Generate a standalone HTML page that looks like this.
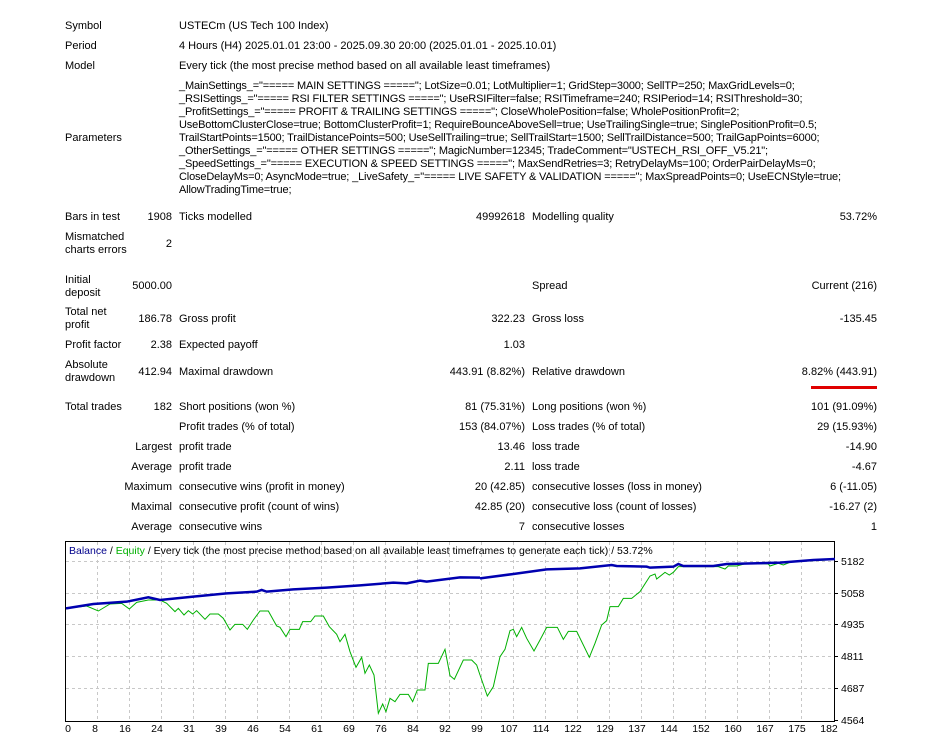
<!DOCTYPE html>
<html><head><meta charset="utf-8"><style>
body{margin:0;background:#fff;width:938px;height:743px;overflow:hidden;position:relative;font-family:"Liberation Sans",sans-serif;font-size:11px;color:#000}
.t{position:absolute;white-space:nowrap;line-height:13px}
.r{text-align:right}
</style></head><body>
<div class="t" style="left:65px;top:20px">Symbol</div>
<div class="t" style="left:179px;top:20px">USTECm (US Tech 100 Index)</div>
<div class="t" style="left:65px;top:40px">Period</div>
<div class="t" style="left:179px;top:40px">4 Hours (H4) 2025.01.01 23:00 - 2025.09.30 20:00 (2025.01.01 - 2025.10.01)</div>
<div class="t" style="left:65px;top:60px">Model</div>
<div class="t" style="left:179px;top:60px">Every tick (the most precise method based on all available least timeframes)</div>
<div class="t" style="left:65px;top:132px">Parameters</div>
<div class="t" style="left:179px;top:80px;letter-spacing:-0.15px">_MainSettings_="===== MAIN SETTINGS ====="; LotSize=0.01; LotMultiplier=1; GridStep=3000; SellTP=250; MaxGridLevels=0;<br>_RSISettings_="===== RSI FILTER SETTINGS ====="; UseRSIFilter=false; RSITimeframe=240; RSIPeriod=14; RSIThreshold=30;<br>_ProfitSettings_="===== PROFIT &amp; TRAILING SETTINGS ====="; CloseWholePosition=false; WholePositionProfit=2;<br>UseBottomClusterClose=true; BottomClusterProfit=1; RequireBounceAboveSell=true; UseTrailingSingle=true; SinglePositionProfit=0.5;<br>TrailStartPoints=1500; TrailDistancePoints=500; UseSellTrailing=true; SellTrailStart=1500; SellTrailDistance=500; TrailGapPoints=6000;<br>_OtherSettings_="===== OTHER SETTINGS ====="; MagicNumber=12345; TradeComment="USTECH_RSI_OFF_V5.21";<br>_SpeedSettings_="===== EXECUTION &amp; SPEED SETTINGS ====="; MaxSendRetries=3; RetryDelayMs=100; OrderPairDelayMs=0;<br>CloseDelayMs=0; AsyncMode=true; _LiveSafety_="===== LIVE SAFETY &amp; VALIDATION ====="; MaxSpreadPoints=0; UseECNStyle=true;<br>AllowTradingTime=true;</div>

<div class="t" style="left:65px;top:211px">Bars in test</div>
<div class="t r" style="right:766px;top:211px">1908</div>
<div class="t" style="left:179px;top:211px">Ticks modelled</div>
<div class="t r" style="right:413px;top:211px">49992618</div>
<div class="t" style="left:532px;top:211px">Modelling quality</div>
<div class="t r" style="right:61px;top:211px">53.72%</div>

<div class="t" style="left:65px;top:231px">Mismatched<br>charts errors</div>
<div class="t r" style="right:766px;top:238px">2</div>

<div class="t" style="left:65px;top:274px">Initial<br>deposit</div>
<div class="t r" style="right:766px;top:280px">5000.00</div>
<div class="t" style="left:532px;top:280px">Spread</div>
<div class="t r" style="right:61px;top:280px">Current (216)</div>

<div class="t" style="left:65px;top:306px">Total net<br>profit</div>
<div class="t r" style="right:766px;top:313px">186.78</div>
<div class="t" style="left:179px;top:313px">Gross profit</div>
<div class="t r" style="right:413px;top:313px">322.23</div>
<div class="t" style="left:532px;top:313px">Gross loss</div>
<div class="t r" style="right:61px;top:313px">-135.45</div>

<div class="t" style="left:65px;top:339px">Profit factor</div>
<div class="t r" style="right:766px;top:339px">2.38</div>
<div class="t" style="left:179px;top:339px">Expected payoff</div>
<div class="t r" style="right:413px;top:339px">1.03</div>

<div class="t" style="left:65px;top:359px">Absolute<br>drawdown</div>
<div class="t r" style="right:766px;top:366px">412.94</div>
<div class="t" style="left:179px;top:366px">Maximal drawdown</div>
<div class="t r" style="right:413px;top:366px">443.91 (8.82%)</div>
<div class="t" style="left:532px;top:366px">Relative drawdown</div>
<div class="t r" style="right:61px;top:366px">8.82% (443.91)</div>
<div style="position:absolute;left:811px;top:386px;width:66px;height:3px;background:#e00000"></div>

<div class="t" style="left:65px;top:401px">Total trades</div>
<div class="t r" style="right:766px;top:401px">182</div>
<div class="t" style="left:179px;top:401px">Short positions (won %)</div>
<div class="t r" style="right:413px;top:401px">81 (75.31%)</div>
<div class="t" style="left:532px;top:401px">Long positions (won %)</div>
<div class="t r" style="right:61px;top:401px">101 (91.09%)</div>

<div class="t" style="left:179px;top:421px">Profit trades (% of total)</div>
<div class="t r" style="right:413px;top:421px">153 (84.07%)</div>
<div class="t" style="left:532px;top:421px">Loss trades (% of total)</div>
<div class="t r" style="right:61px;top:421px">29 (15.93%)</div>

<div class="t r" style="right:766px;top:441px">Largest</div>
<div class="t" style="left:179px;top:441px">profit trade</div>
<div class="t r" style="right:413px;top:441px">13.46</div>
<div class="t" style="left:532px;top:441px">loss trade</div>
<div class="t r" style="right:61px;top:441px">-14.90</div>

<div class="t r" style="right:766px;top:461px">Average</div>
<div class="t" style="left:179px;top:461px">profit trade</div>
<div class="t r" style="right:413px;top:461px">2.11</div>
<div class="t" style="left:532px;top:461px">loss trade</div>
<div class="t r" style="right:61px;top:461px">-4.67</div>

<div class="t r" style="right:766px;top:481px">Maximum</div>
<div class="t" style="left:179px;top:481px">consecutive wins (profit in money)</div>
<div class="t r" style="right:413px;top:481px">20 (42.85)</div>
<div class="t" style="left:532px;top:481px">consecutive losses (loss in money)</div>
<div class="t r" style="right:61px;top:481px">6 (-11.05)</div>

<div class="t r" style="right:766px;top:501px">Maximal</div>
<div class="t" style="left:179px;top:501px">consecutive profit (count of wins)</div>
<div class="t r" style="right:413px;top:501px">42.85 (20)</div>
<div class="t" style="left:532px;top:501px">consecutive loss (count of losses)</div>
<div class="t r" style="right:61px;top:501px">-16.27 (2)</div>

<div class="t r" style="right:766px;top:521px">Average</div>
<div class="t" style="left:179px;top:521px">consecutive wins</div>
<div class="t r" style="right:413px;top:521px">7</div>
<div class="t" style="left:532px;top:521px">consecutive losses</div>
<div class="t r" style="right:61px;top:521px">1</div>

<svg style="position:absolute;left:0;top:0" width="938" height="743" font-family="Liberation Sans, sans-serif" font-size="10.5">
<g stroke="#c8c8c8" stroke-dasharray="3,3" stroke-width="1">
<line x1="66" x2="834" y1="561.5" y2="561.5"/><line x1="66" x2="834" y1="593.5" y2="593.5"/><line x1="66" x2="834" y1="624.5" y2="624.5"/><line x1="66" x2="834" y1="656.5" y2="656.5"/><line x1="66" x2="834" y1="688.5" y2="688.5"/>
<path d="M97.5 542V721M129.5 542V721M161.5 542V721M193.5 542V721M225.5 542V721M257.5 542V721M289.5 542V721M321.5 542V721M353.5 542V721M385.5 542V721M417.5 542V721M449.5 542V721M481.5 542V721M513.5 542V721M545.5 542V721M577.5 542V721M609.5 542V721M641.5 542V721M673.5 542V721M705.5 542V721M737.5 542V721M769.5 542V721M801.5 542V721"/>
</g>
<rect x="65.5" y="541.5" width="769" height="180" fill="none" stroke="#000"/>
<g stroke="#000"><path d="M834 561.5h4M834 593.5h4M834 624.5h4M834 656.5h4M834 688.5h4M834 720.5h4"/></g>
<g fill="#000">
<text x="841" y="565">5182</text><text x="841" y="597">5058</text><text x="841" y="628">4935</text><text x="841" y="660">4811</text><text x="841" y="692">4687</text><text x="841" y="724">4564</text>
</g>
<g fill="#000" text-anchor="middle">
<text x="68" y="732">0</text><text x="95" y="732">8</text><text x="125" y="732">16</text><text x="157" y="732">24</text><text x="189" y="732">31</text><text x="221" y="732">39</text><text x="253" y="732">46</text><text x="285" y="732">54</text><text x="317" y="732">61</text><text x="349" y="732">69</text><text x="381" y="732">76</text><text x="413" y="732">84</text><text x="445" y="732">92</text><text x="477" y="732">99</text><text x="509" y="732">107</text><text x="541" y="732">114</text><text x="573" y="732">122</text><text x="605" y="732">129</text><text x="637" y="732">137</text><text x="669" y="732">144</text><text x="701" y="732">152</text><text x="733" y="732">160</text><text x="765" y="732">167</text><text x="797" y="732">175</text><text x="829" y="732">182</text>
</g>
<text x="69" y="554" font-size="10.5"><tspan fill="#00008b">Balance</tspan> / <tspan fill="#00b000">Equity</tspan> / Every tick (the most precise method based on all available least timeframes to generate each tick) / 53.72%</text>
<g transform="translate(60,540) scale(0.33333)" fill="none">
<polyline vector-effect="non-scaling-stroke" stroke="#00b000" stroke-width="1" points="18,205 80,198 115,213 150,192 185,190 208,207 230,187 265,180 300,180 320,190 345,215 355,205 372,225 385,212 398,222 410,212 435,238 450,222 475,222 490,235 510,270 525,253 548,253 562,268 580,240 600,213 625,213 650,258 660,262 678,290 690,268 718,268 728,245 752,245 765,228 790,228 808,260 830,283 840,305 855,283 870,335 888,382 905,352 915,400 928,375 942,405 955,520 968,492 978,515 990,475 1005,485 1020,463 1045,463 1058,485 1072,450 1095,450 1105,370 1135,370 1155,328 1170,407 1183,418 1210,360 1235,360 1250,375 1260,405"/>
<polyline vector-effect="non-scaling-stroke" stroke="#0000b0" stroke-width="2.5" points="18,205 100,192 200,185 265,172 300,180 400,170 500,160 590,155 605,150 620,155 700,148 800,143 900,136 1000,128 1040,130 1080,122 1100,125 1200,112 1260,113"/>
</g>
<g transform="translate(480,540) scale(0.33333)" fill="none">
<polyline vector-effect="non-scaling-stroke" stroke="#00b000" stroke-width="1" points="0,405 22,468 40,440 60,350 75,328 90,272 100,268 110,290 125,262 140,295 162,333 180,300 200,262 232,262 250,298 265,274 290,274 328,352 345,310 365,255 380,242 390,200 415,200 430,175 455,175 480,155 510,108 525,102 530,117 555,97 568,105 580,97 595,80 715,80 735,87 745,78 770,78 800,70 865,72 870,78 895,70 910,75 935,65 1040,60 1065,57"/>
<polyline vector-effect="non-scaling-stroke" stroke="#0000b0" stroke-width="2.5" points="0,115 100,102 200,88 300,85 395,75 410,78 500,80 510,83 580,80 595,72 610,78 700,78 740,72 900,68 1000,60 1065,57"/>
</g>
</svg>
</body></html>
